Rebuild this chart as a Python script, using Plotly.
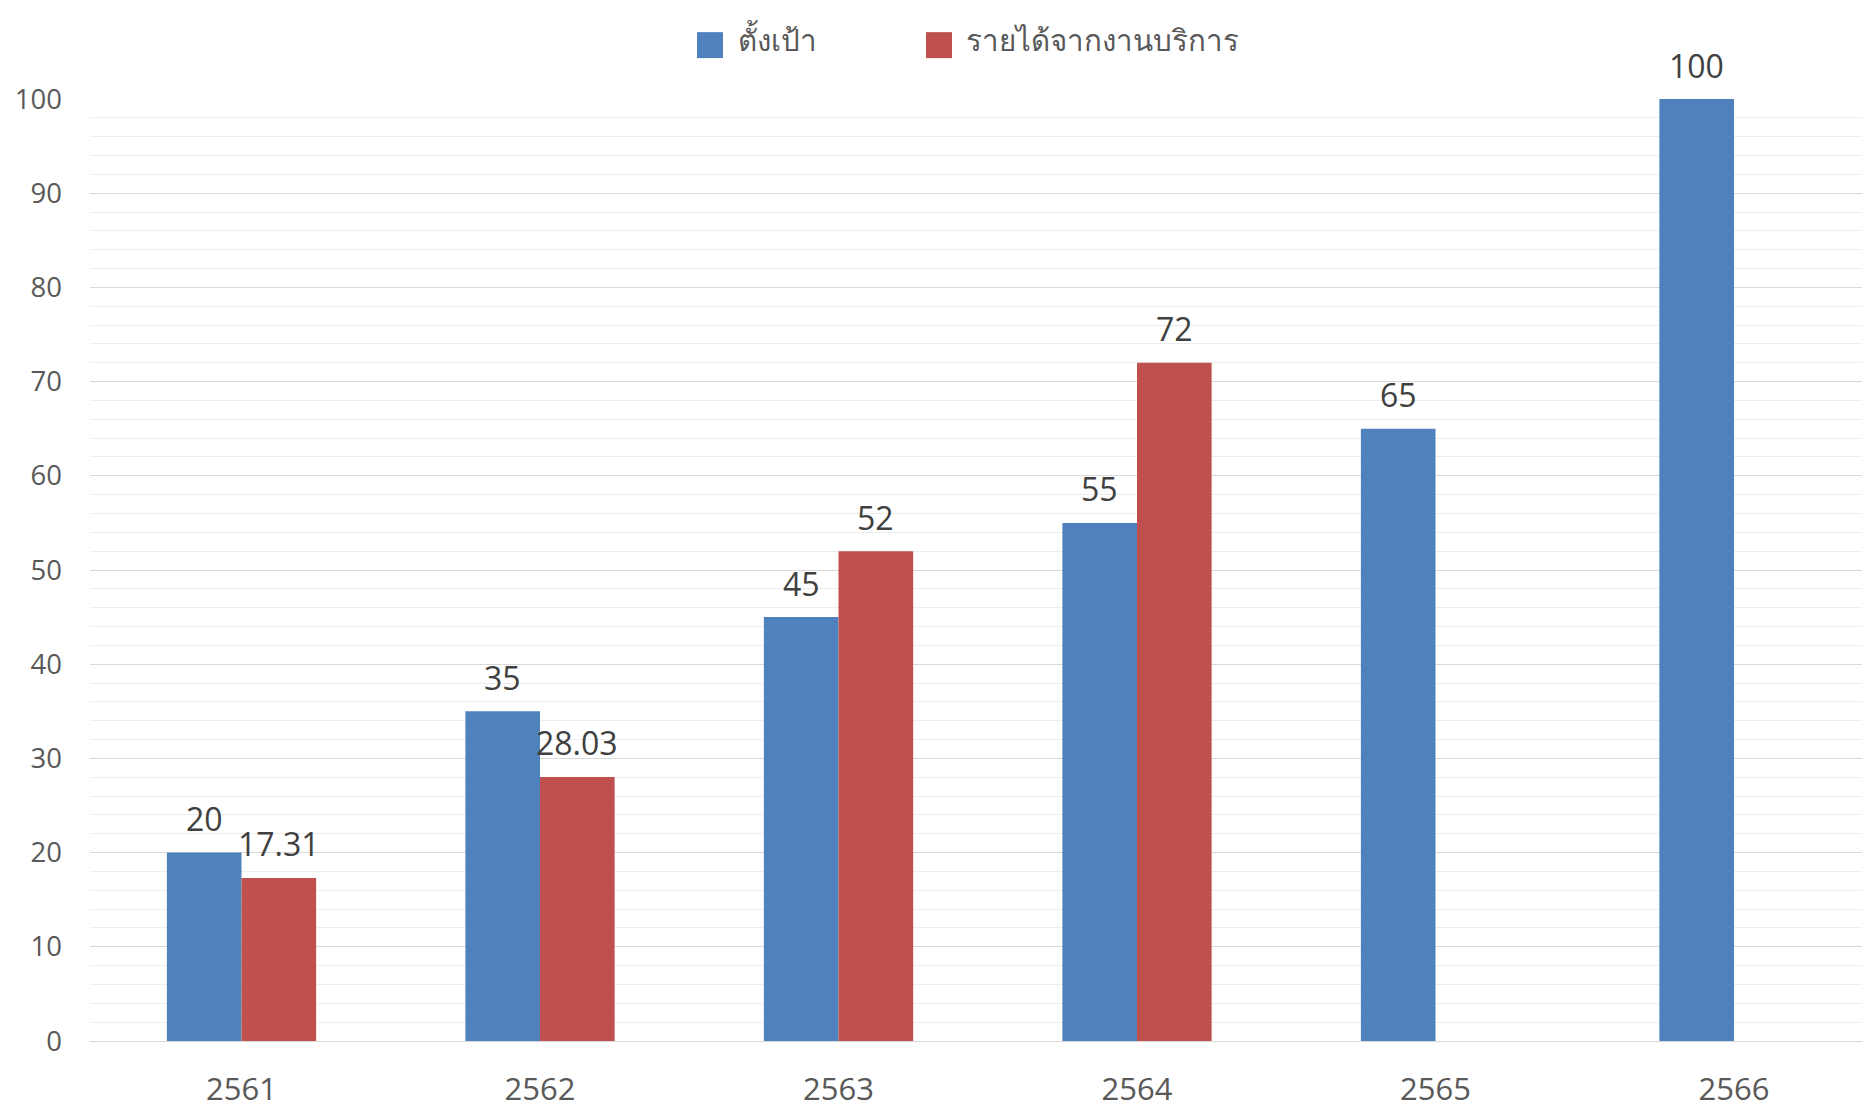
import plotly.graph_objects as go

# Fiscal years (Buddhist era) and the two series
years = ["2561", "2562", "2563", "2564", "2565", "2566"]
target = [20, 35, 45, 55, 65, 100]
service_income = [17.31, 28.03, 52, 72, None, None]
target_labels = ["20", "35", "45", "55", "65", "100"]
income_labels = ["17.31", "28.03", "52", "72", None, None]
series_names = ["ตั้งเป้า", "รายได้จากงานบริการ"]
y_ticks = [0, 10, 20, 30, 40, 50, 60, 70, 80, 90, 100]

BLUE = "#4F81BD"
RED = "#C0504D"
GREY = "#595959"
FONT = "Open Sans, Noto Sans, DejaVu Sans, sans-serif"

W, H = 1862, 1109
M_L, M_R, M_T, M_B = 90, 0, 99, 66
CAT_PX = 298.5          # width of one category band in pixels
FIRST_CENTER = 241.5    # pixel x of the first category centre

fig = go.Figure()
fig.add_trace(go.Bar(x=years, y=target, name=series_names[0],
                     marker=dict(color=BLUE, line=dict(width=0)), showlegend=False))
fig.add_trace(go.Bar(x=years, y=service_income, name=series_names[1],
                     marker=dict(color=RED, line=dict(width=0)), showlegend=False))

# value labels above each bar
half = 0.125
annotations = []
for i, (v, t) in enumerate(zip(target, target_labels)):
    annotations.append(dict(x=i - half, y=v, xref="x", yref="y", text=t,
                            showarrow=False, yanchor="middle", yshift=34,
                            font=dict(size=32, color="#404040", family=FONT)))
for i, (v, t) in enumerate(zip(service_income, income_labels)):
    if v is None:
        continue
    annotations.append(dict(x=i + half, y=v, xref="x", yref="y", text=t,
                            showarrow=False, yanchor="middle", yshift=34,
                            font=dict(size=32, color="#404040", family=FONT)))

# legend drawn as swatches + text in paper space
plot_w = W - M_L - M_R
plot_h = H - M_T - M_B
def px_x(p):
    return (p - M_L) / plot_w
def px_y(p):
    return 1 + (M_T - p) / plot_h

shapes = []
for (x0, x1, col, tx, name) in [(697, 723, BLUE, 736, series_names[0]),
                                (926, 952, RED, 964, series_names[1])]:
    shapes.append(dict(type="rect", xref="paper", yref="paper",
                       x0=px_x(x0), x1=px_x(x1), y0=px_y(58), y1=px_y(32),
                       fillcolor=col, line=dict(width=0)))
    annotations.append(dict(x=px_x(tx), y=px_y(39), xref="paper", yref="paper",
                            text=name, showarrow=False, xanchor="left", yanchor="middle",
                            font=dict(size=29.5, color=GREY, family=FONT)))

r0 = -(FIRST_CENTER - M_L) / CAT_PX
r1 = r0 + plot_w / CAT_PX
fig.update_layout(
    width=W, height=H,
    margin=dict(l=M_L, r=M_R, t=M_T, b=M_B),
    paper_bgcolor="white", plot_bgcolor="white",
    barmode="group", bargap=0.5, bargroupgap=0,
    font=dict(family=FONT, color=GREY),
    annotations=annotations, shapes=shapes,
    xaxis=dict(type="category", range=[r0, r1], showgrid=False,
               showline=False, ticks="", tickfont=dict(size=31, color=GREY),
               ticklabelstandoff=27),
    yaxis=dict(range=[0, 100], tickvals=y_ticks, showgrid=True, gridcolor="#D9D9D9",
               gridwidth=1, zeroline=True, zerolinecolor="#D9D9D9", zerolinewidth=1,
               showline=False, ticks="", tickfont=dict(size=27.5, color=GREY),
               ticklabelstandoff=27,
               minor=dict(dtick=2, showgrid=True, gridcolor="#EDEDED", gridwidth=1)),
)
for tr in fig.data:
    tr.cliponaxis = False

fig.write_html("out.html")
